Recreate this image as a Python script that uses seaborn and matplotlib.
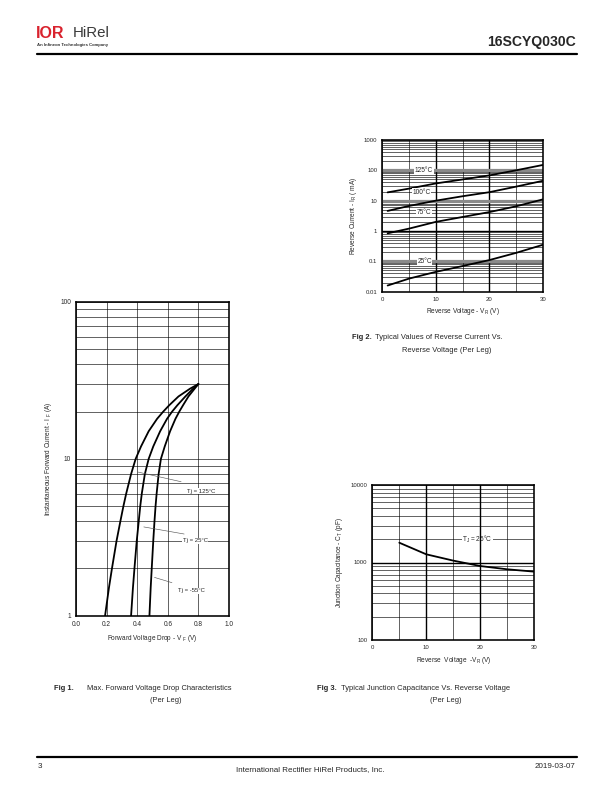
import numpy as np
import pandas as pd
import seaborn as sns
import matplotlib.pyplot as plt
from matplotlib.ticker import LogLocator, NullFormatter, FixedLocator

# ---- data ----
# Fig 1: forward current (A) vs forward voltage (V)
fig1_if = [1, 1.5, 2, 3, 4, 5, 6, 8, 10, 12, 15, 18, 20, 22, 25, 28, 30]
fig1_vf_125 = [0.19, 0.215, 0.235, 0.265, 0.29, 0.31, 0.328, 0.36, 0.39,
               0.425, 0.475, 0.53, 0.57, 0.61, 0.67, 0.745, 0.80]
fig1_vf_25 = [0.36, 0.372, 0.382, 0.397, 0.41, 0.42, 0.43, 0.45, 0.475,
              0.505, 0.55, 0.595, 0.628, 0.663, 0.715, 0.765, 0.80]
fig1_vf_m55 = [0.48, 0.488, 0.495, 0.505, 0.513, 0.52, 0.527, 0.54, 0.555,
               0.58, 0.615, 0.65, 0.675, 0.70, 0.735, 0.775, 0.80]

# Fig 2: reverse current (mA) vs reverse voltage (V)
fig2_vr = [1, 5, 10, 15, 20, 25, 30]
fig2_ir_125 = [18.8, 25, 37, 50, 68, 100, 150]
fig2_ir_100 = [4.6, 6.7, 10, 14, 19, 29, 45]
fig2_ir_75 = [0.84, 1.2, 2.0, 2.9, 4.2, 6.5, 11]
fig2_ir_25 = [0.016, 0.027, 0.045, 0.07, 0.11, 0.19, 0.35]

# Fig 3: junction capacitance (pF) vs reverse voltage (V)
fig3_vr = [5, 10, 15, 20, 25, 30]
fig3_ct = [1800, 1275, 1057, 900, 817, 762]

sns.set_style("white")
plt.rcParams['font.family'] = ['Liberation Sans', 'DejaVu Sans']
plt.rcParams['mathtext.default'] = 'regular'

W, H = 612, 792
fig = plt.figure(figsize=(W / 72, H / 72), dpi=72)


def rect(l, t, r, b):
    return [l / W, 1 - b / H, (r - l) / W, (b - t) / H]


def px(x, y):
    return x / W, 1 - y / H


def style_log_axes(ax):
    ax.set_yscale('log')
    ax.yaxis.set_minor_locator(LogLocator(base=10, subs=np.arange(2, 10)))
    ax.yaxis.set_minor_formatter(NullFormatter())
    ax.tick_params(which='both', length=0, labelsize=6.5, pad=5)
    for s in ax.spines.values():
        s.set_linewidth(1.6)
        s.set_color('black')
        s.set_zorder(6)


# ---------------- Fig 1 ----------------
ax1 = fig.add_axes(rect(76, 302, 229, 615.7))
n1 = len(fig1_if)
df1 = pd.DataFrame({
    'vf': fig1_vf_125 + fig1_vf_25 + fig1_vf_m55,
    'if': fig1_if * 3,
    'tj': ['125'] * n1 + ['25'] * n1 + ['-55'] * n1,
})
sns.lineplot(data=df1, x='vf', y='if', units='tj', estimator=None, sort=False,
             color='black', lw=1.8, ax=ax1, zorder=3)
style_log_axes(ax1)
ax1.set_xlim(0, 1.0)
ax1.set_ylim(1, 100)
ax1.set_xticks([0, 0.2, 0.4, 0.6, 0.8, 1.0])
ax1.set_xticklabels(['0.0', '0.2', '0.4', '0.6', '0.8', '1.0'])
ax1.set_yticks([1, 10, 100])
ax1.set_yticklabels(['1', '10', '100'])
ax1.grid(True, which='both', color='black', lw=0.6)
ax1.set_xlabel('Forward Voltage Drop - V $_{F}$ (V)', fontsize=6.5, labelpad=5)
ax1.set_ylabel('Instantaneous Forward Current - I $_{F}$ (A)', fontsize=6.5, labelpad=6)
for xy, xl in [((0.39, 8.3), (0.70, 7.1)),
               ((0.43, 3.7), (0.72, 3.3)),
               ((0.50, 1.77), (0.64, 1.61))]:
    ax1.annotate('', xy=xy, xytext=xl,
                 arrowprops=dict(arrowstyle='-', color='#555555', lw=0.6))
for x, y, txt in [(0.82, 6.2, 'Tj = 125°C'), (0.78, 3.0, 'Tj = 25°C'),
                  (0.755, 1.44, 'Tj = -55°C')]:
    ax1.text(x, y, txt, fontsize=6, ha='center', va='center',
             bbox=dict(fc='white', ec='none', pad=0.5), zorder=4)

# ---------------- Fig 2 ----------------
ax2 = fig.add_axes(rect(382.3, 140, 542.7, 291.7))
n2 = len(fig2_vr)
df2 = pd.DataFrame({
    'vr': fig2_vr * 4,
    'ir': fig2_ir_125 + fig2_ir_100 + fig2_ir_75 + fig2_ir_25,
    'tj': ['125'] * n2 + ['100'] * n2 + ['75'] * n2 + ['25'] * n2,
})
sns.lineplot(data=df2, x='vr', y='ir', units='tj', estimator=None,
             color='black', lw=1.8, ax=ax2, zorder=3)
style_log_axes(ax2)
ax2.tick_params(labelsize=6)
ax2.set_xlim(0, 30)
ax2.set_ylim(0.01, 1000)
ax2.set_xticks([0, 10, 20, 30])
ax2.xaxis.set_minor_locator(FixedLocator([5, 15, 25]))
ax2.set_yticks([0.01, 0.1, 1, 10, 100, 1000])
ax2.set_yticklabels(['0.01', '0.1', '1', '10', '100', '1000'])
ax2.grid(True, which='both', color='black', lw=0.6)
for v in [10, 20]:
    ax2.axvline(v, color='black', lw=1.4, zorder=1)
ax2.axhline(1, color='black', lw=1.4, zorder=1)
for v in [0.1, 10, 100]:
    ax2.axhline(v, color='#8a8a8a', lw=3.2, zorder=1)
ax2.set_xlabel('Reverse Voltage - V$_{R}$ (V)', fontsize=6.5, labelpad=4)
ax2.set_ylabel('Reverse Current - I$_{R}$ ( mA)', fontsize=6.5, labelpad=5)
for x, y, txt in [(7.8, 100, '125°C'), (7.4, 19, '100°C'),
                  (7.8, 4, '75°C'), (7.9, 0.1, '25°C')]:
    ax2.text(x, y, txt, fontsize=6.5, ha='center', va='center',
             bbox=dict(fc='white', ec='none', pad=0.4), zorder=4)

# ---------------- Fig 3 ----------------
ax3 = fig.add_axes(rect(372.3, 485, 534.3, 640))
df3 = pd.DataFrame({'vr': fig3_vr, 'ct': fig3_ct})
sns.lineplot(data=df3, x='vr', y='ct', color='black', lw=1.8, ax=ax3, zorder=3)
style_log_axes(ax3)
ax3.tick_params(labelsize=6)
ax3.set_xlim(0, 30)
ax3.set_ylim(100, 10000)
ax3.set_xticks([0, 10, 20, 30])
ax3.xaxis.set_minor_locator(FixedLocator([5, 15, 25]))
ax3.set_yticks([100, 1000, 10000])
ax3.set_yticklabels(['100', '1000', '10000'])
ax3.grid(True, which='both', color='black', lw=0.6)
for v in [10, 20]:
    ax3.axvline(v, color='black', lw=1.4, zorder=5)
ax3.axhline(1000, color='black', lw=1.4, zorder=1)
ax3.set_xlabel('Reverse  Voltage  -V$_{R}$ (V)', fontsize=6.5, labelpad=5)
ax3.set_ylabel('Junction Capacitance - C$_{T}$ (pF)', fontsize=6.5, labelpad=5)
ax3.text(19.4, 2000, 'T$_{J}$ = 25°C', fontsize=6.5, ha='center', va='center',
         bbox=dict(fc='white', ec='none', pad=0.4), zorder=4)

# ---------------- page furniture ----------------
fig.text(*px(36, 33), 'IOR', fontsize=16, fontweight='bold', color='#d9232e',
         va='center', ha='left')
fig.text(*px(73, 33), 'HiRel', fontsize=15, color='#3a3a3a', va='center', ha='left')
fig.text(*px(37, 45), 'An Infineon Technologies Company', fontsize=4.2,
         fontweight='bold', color='#333333', va='center', ha='left')
fig.text(*px(576, 42), '16SCYQ030C', fontsize=14, fontweight='bold',
         va='center', ha='right')
fig.add_artist(plt.Line2D([37 / W, 577 / W], [1 - 54 / H] * 2, color='black', lw=2.2))
fig.add_artist(plt.Line2D([37 / W, 577 / W], [1 - 757 / H] * 2, color='black', lw=2.2))
fig.text(*px(38, 767), '3', fontsize=8, va='center', ha='left')
fig.text(*px(310, 770), 'International Rectifier HiRel Products, Inc.', fontsize=8,
         va='center', ha='center')
fig.text(*px(575, 767), '2019-03-07', fontsize=8, va='center', ha='right')

# captions
fig.text(*px(352, 338), 'Fig 2.', fontsize=7.5, fontweight='bold', va='center', ha='left')
fig.text(*px(375, 338), 'Typical Values of Reverse Current Vs.', fontsize=7.5,
         va='center', ha='left')
fig.text(*px(447, 350), 'Reverse Voltage (Per Leg)', fontsize=7.5, va='center', ha='center')

fig.text(*px(54, 688), 'Fig 1.', fontsize=7.5, fontweight='bold', va='center', ha='left')
fig.text(*px(87, 688), 'Max. Forward Voltage Drop Characteristics', fontsize=7.5,
         va='center', ha='left')
fig.text(*px(166, 700), '(Per Leg)', fontsize=7.5, va='center', ha='center')

fig.text(*px(317, 688), 'Fig 3.', fontsize=7.5, fontweight='bold', va='center', ha='left')
fig.text(*px(341, 688), 'Typical Junction Capacitance Vs. Reverse Voltage', fontsize=7.5,
         va='center', ha='left')
fig.text(*px(446, 701), '(Per Leg)', fontsize=7.5, va='center', ha='center')

fig.savefig('out.png', dpi=72)
